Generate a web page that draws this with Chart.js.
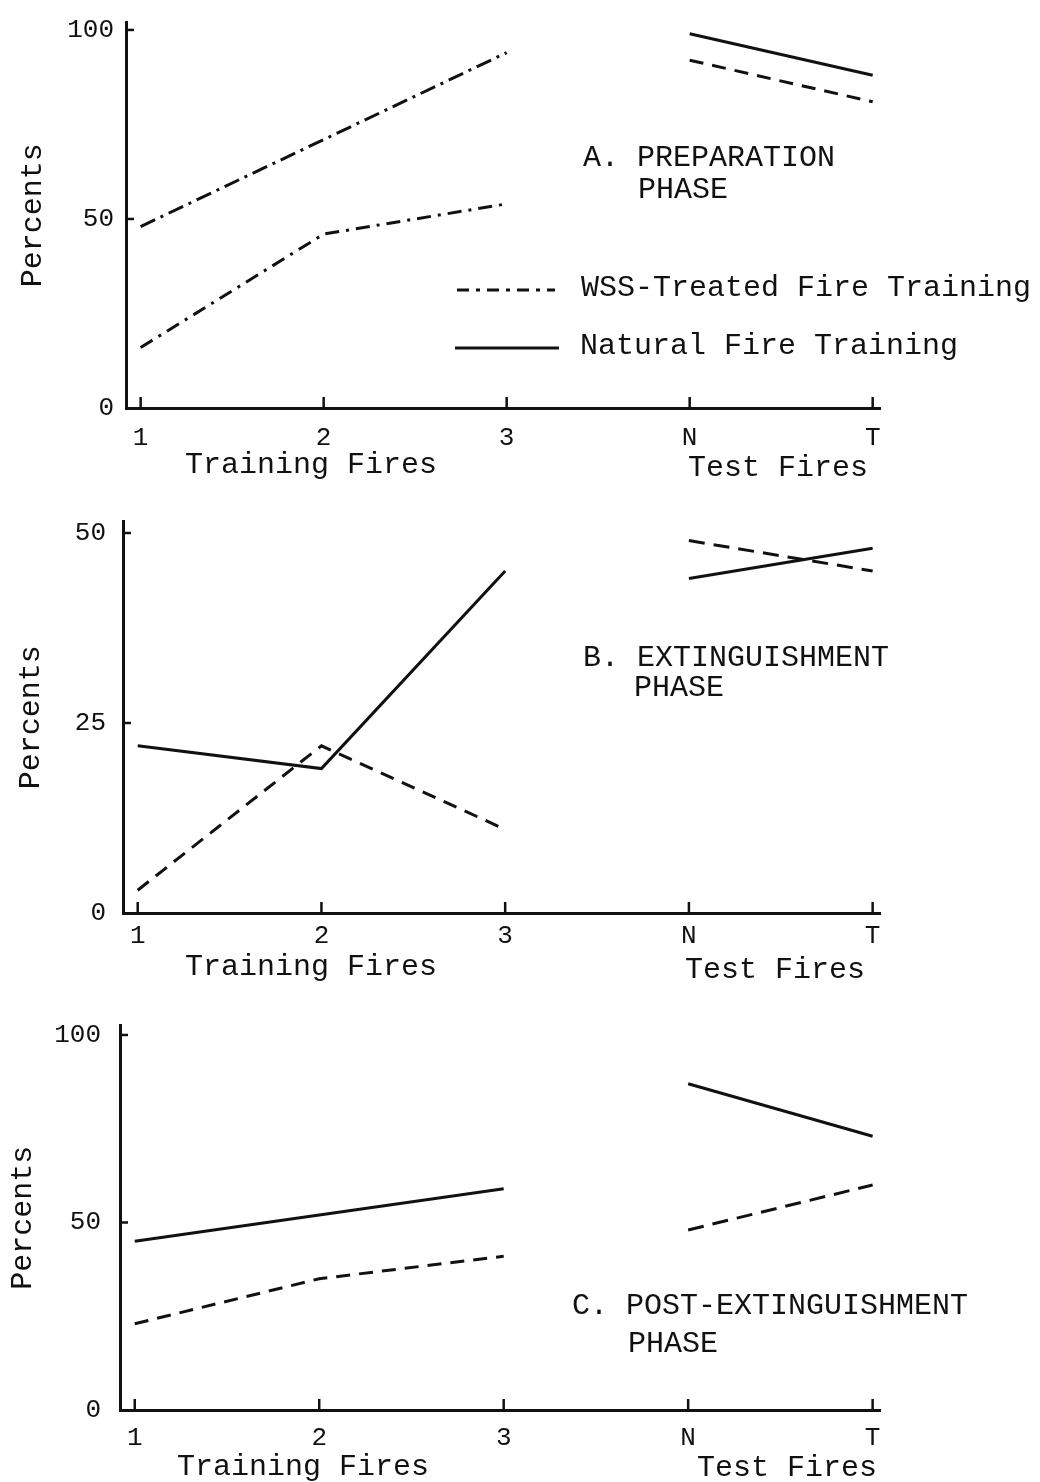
<!DOCTYPE html>
<html>
<head>
<meta charset="utf-8">
<script src="https://cdn.jsdelivr.net/npm/chart.js@4.4.1/dist/chart.umd.min.js"></script>
<style>
  html, body { margin: 0; padding: 0; background: #fff; }
  body { width: 1040px; height: 1482px; position: relative; overflow: hidden;
         font-family: "Liberation Mono", "DejaVu Sans Mono", monospace; color: #111; }
  canvas { position: absolute; left: 0; }
  .t { position: absolute; font-size: 30px; line-height: 30px; white-space: pre; }
  svg { position: absolute; left: 0; top: 0; }
</style>
</head>
<body>
<canvas id="chartA" width="1040" height="490" style="top:0px"></canvas>
<canvas id="chartB" width="1040" height="495" style="top:490px"></canvas>
<canvas id="chartC" width="1040" height="497" style="top:985px"></canvas>

<!-- legend keys (panel A) -->
<svg width="1040" height="400">
  <line x1="457" y1="290" x2="555" y2="290" stroke="#111" stroke-width="3" stroke-dasharray="12 7 4 7"/>
  <line x1="455" y1="348" x2="559" y2="348" stroke="#111" stroke-width="3"/>
</svg>

<div class="t" style="left:583px;top:143px">A. PREPARATION</div>
<div class="t" style="left:638px;top:175px">PHASE</div>
<div class="t" style="left:581px;top:273px">WSS-Treated Fire Training</div>
<div class="t" style="left:580px;top:331px">Natural Fire Training</div>
<div class="t" style="left:185px;top:450px">Training Fires</div>
<div class="t" style="left:688px;top:453px">Test Fires</div>

<div class="t" style="left:583px;top:643px">B. EXTINGUISHMENT</div>
<div class="t" style="left:634px;top:673px">PHASE</div>
<div class="t" style="left:185px;top:952px">Training Fires</div>
<div class="t" style="left:685px;top:955px">Test Fires</div>

<div class="t" style="left:572px;top:1291px">C. POST-EXTINGUISHMENT</div>
<div class="t" style="left:628px;top:1329px">PHASE</div>
<div class="t" style="left:177px;top:1452px">Training Fires</div>
<div class="t" style="left:697px;top:1453px">Test Fires</div>

<script>
// categories
const trainingLabels = ['1', '2', '3'];
const testLabels = ['N', 'T'];

// A. preparation phase (percents)
const aNaturalTraining = [48, 71, 94];
const aNaturalTest = [99, 88];
const aWssTraining = [16, 46, 54];
const aWssTest = [92, 81];

// B. extinguishment phase
const bNaturalTraining = [22, 19, 45];
const bNaturalTest = [44, 48];
const bWssTraining = [3, 22, 11];
const bWssTest = [49, 45];

// C. post-extinguishment phase
const cNaturalTraining = [45, 52, 59];
const cNaturalTest = [87, 73];
const cWssTraining = [23, 35, 41];
const cWssTest = [48, 60];

// y tick labels
const yTicksA = [0, 50, 100];
const yTicksB = [0, 25, 50];
const yTicksC = [0, 50, 100];

const ink = '#111';
const allLabels = trainingLabels.concat(testLabels);
Chart.defaults.font.family = '"Liberation Mono", "DejaVu Sans Mono", monospace';
Chart.defaults.color = ink;

// small tick marks pointing into the plot, like the typed original
const innerTicks = {
  id: 'innerTicks',
  afterDraw(chart) {
    const {ctx, chartArea, scales: {x, y}} = chart;
    ctx.save();
    ctx.strokeStyle = ink;
    ctx.lineWidth = 2.5;
    x.ticks.forEach(t => {
      const px = x.getPixelForValue(t.value);
      ctx.beginPath();
      ctx.moveTo(px, chartArea.bottom);
      ctx.lineTo(px, chartArea.bottom - 11);
      ctx.stroke();
    });
    y.ticks.forEach(t => {
      if (t.value === 0) return;
      const py = y.getPixelForValue(t.value);
      ctx.beginPath();
      ctx.moveTo(chartArea.left, py);
      ctx.lineTo(chartArea.left + 8, py);
      ctx.stroke();
    });
    ctx.restore();
  }
};

function toPoints(values, start) {
  return values.map((v, i) => ({x: start + i, y: v}));
}

function line(label, values, start, dash) {
  return {
    label: label,
    data: toPoints(values, start),
    borderColor: ink,
    borderWidth: 3,
    borderDash: dash,
    pointRadius: 0,
    tension: 0,
    fill: false
  };
}

function drawPanel(p) {
  const canvas = document.getElementById(p.id);
  const nTrain = trainingLabels.length;
  new Chart(canvas, {
    type: 'line',
    data: {
      datasets: [
        line('Natural Fire Training', p.natural[0], 0, p.dash[0]),
        line('Natural Fire Training', p.natural[1], nTrain, p.dash[1]),
        line('WSS-Treated Fire Training', p.wss[0], 0, p.dash[2]),
        line('WSS-Treated Fire Training', p.wss[1], nTrain, p.dash[3])
      ]
    },
    options: {
      responsive: false,
      animation: false,
      layout: {padding: {left: 0, top: p.areaTop, right: 160, bottom: 0}},
      plugins: {legend: {display: false}, tooltip: {enabled: false}},
      scales: {
        x: {
          type: 'linear',
          min: -0.08,
          max: 4.04,
          grid: {display: false, drawTicks: false},
          border: {display: true, color: ink, width: 3},
          ticks: {
            padding: p.xPad,
            font: {size: 26},
            color: ink,
            callback: v => allLabels[v]
          },
          afterBuildTicks: s => { s.ticks = allLabels.map((_, i) => ({value: i})); },
          afterFit: s => {
            s.height = canvas.height - p.axisY;
            s.paddingLeft = 0; s.paddingRight = 0;
          }
        },
        y: {
          min: 0,
          max: p.yMax,
          grid: {display: false, drawTicks: false},
          border: {display: true, color: ink, width: 3},
          ticks: {padding: p.yPad, font: {size: 26}, color: ink},
          afterBuildTicks: s => { s.ticks = p.yTicks.map(v => ({value: v})); },
          title: {
            display: true,
            text: 'Percents',
            font: {size: 30},
            color: ink,
            padding: {top: p.titlePad, bottom: 0}
          },
          afterFit: s => {
            s.width = p.axisX;
            s.paddingTop = 0; s.paddingBottom = 0;
          }
        }
      }
    },
    plugins: [innerTicks]
  });
}

drawPanel({
  id: 'chartA', axisX: 126, areaTop: 22.4, axisY: 408, yMax: 102, yTicks: yTicksA,
  yPad: 12, xPad: 15, titlePad: 15,
  natural: [aNaturalTraining, aNaturalTest], wss: [aWssTraining, aWssTest],
  dash: [[16, 6, 3, 6], [], [14, 7, 3, 7], [14, 9]]
});
drawPanel({
  id: 'chartB', axisX: 123, areaTop: 31.6, axisY: 423, yMax: 51.5, yTicks: yTicksB,
  yPad: 17, xPad: 8, titlePad: 13,
  natural: [bNaturalTraining, bNaturalTest], wss: [bWssTraining, bWssTest],
  dash: [[], [], [14, 9], [16, 9]]
});
drawPanel({
  id: 'chartC', axisX: 120, areaTop: 40.6, axisY: 425, yMax: 102.5, yTicks: yTicksC,
  yPad: 19, xPad: 13, titlePad: 5,
  natural: [cNaturalTraining, cNaturalTest], wss: [cWssTraining, cWssTest],
  dash: [[], [], [14, 9], [16, 9]]
});
</script>
</body>
</html>
